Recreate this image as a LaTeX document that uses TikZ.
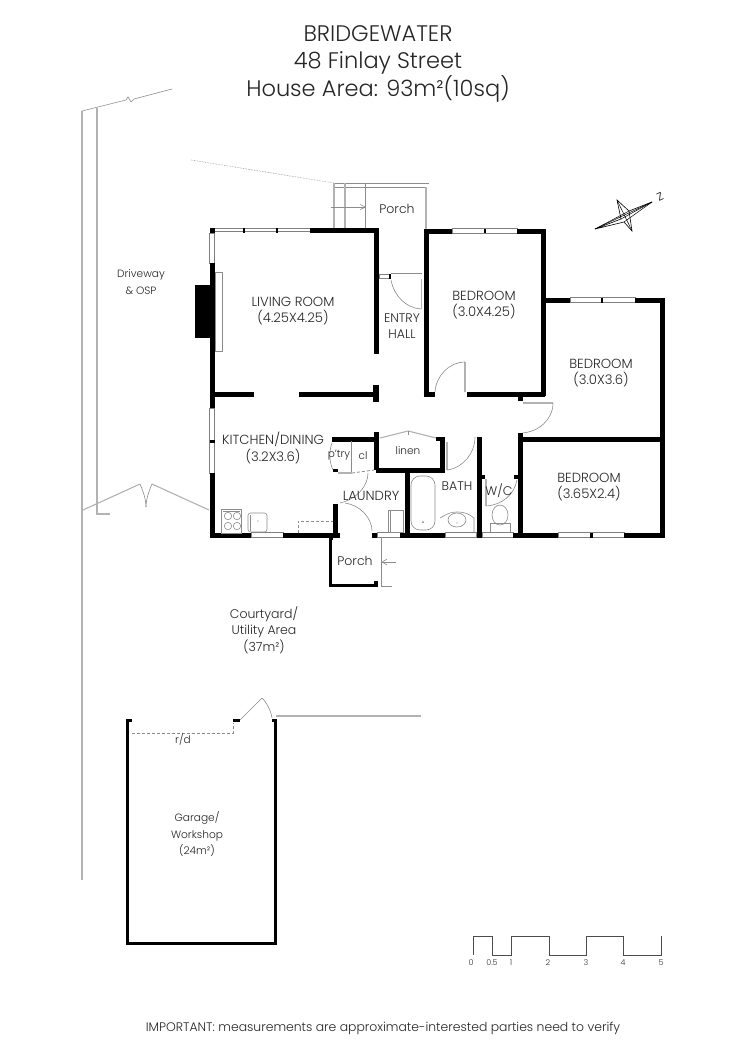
\documentclass[tikz,border=0pt]{standalone}
\usepackage{fontspec}
\usetikzlibrary{arrows.meta}
\setmainfont{Poppins}[UprightFont=* Light]
\tikzset{
 wall/.style={line width=5pt,black,line cap=butt},
 thin wall/.style={line width=3pt,black,line cap=butt},
 grayl/.style={draw=black!45,line width=.6pt},
 pale/.style={draw=black!30,line width=1.1pt},
 win/.style={draw=black!50,line width=.7pt,fill=white},
 lab/.style={font=\fontsize{13.2}{16.5}\selectfont,align=center,inner sep=0pt,text=black!85},
 midlab/.style={font=\fontsize{12.5}{16.5}\selectfont,align=center,inner sep=0pt,text=black!85},
 sitelab/.style={font=\fontsize{10.6}{16.5}\selectfont,align=center,inner sep=0pt,text=black!85},
 smalllab/.style={font=\fontsize{10.5}{12}\selectfont,align=center,inner sep=0pt,text=black!85},
 title/.style={font=\fontsize{22.5}{27}\selectfont,anchor=base,inner sep=0pt,text=black!85},
 tick/.style={font=\fontsize{8}{10}\selectfont,inner sep=0pt,text=black!80},
}
\begin{document}
\begin{tikzpicture}[x=1pt,y=-1pt]
\useasboundingbox[fill=white] (0,0) rectangle (750,1060);
% site lines
\draw[pale] (82,111) -- (82,880);
\draw[pale] (97,108) -- (97,514) -- (110,514);
\draw[grayl] (82,111) -- (126,100) -- (128,97) -- (131,102) -- (134,99) -- (172,89);
\draw[grayl,densely dotted] (191,160) -- (334,183);
\draw[pale] (83,510) -- (140,484);
\draw[grayl] (140,484) .. controls (143,491) and (146,499) .. (146,507);
\draw[grayl] (152,484) .. controls (149,491) and (146,499) .. (146,507);
\draw[pale] (152,484) -- (209,510);
% front porch
\draw[grayl] (334,183) -- (429,183);
\draw[grayl] (334,187) -- (427,187);
\draw[pale] (334,183) -- (334,228);
\draw[pale] (345,183) -- (345,228);
\draw[grayl] (365,183) -- (365,228);
\draw[pale] (426,187) -- (426,232);
\draw[grayl,-{Straight Barb[length=5pt,width=5pt]}] (331,207) -- (366,207);
% living room
\draw[win] (212,228.5) rectangle (310,231.5);
\fill (209.5,227.5) rectangle (214.5,232.5);
\fill (243,227.5) rectangle (245,232.5);
\fill (276,227.5) rectangle (278,232.5);
\draw[win] (209.5,233) rectangle (214.5,263);
\draw[wall] (310,230) -- (379,230);
\draw[wall] (376,228) -- (376,354);
\draw[line width=6pt] (376,385) -- (376,402);
\draw[wall] (212,263) -- (212,408);
\draw[wall] (212,394) -- (254,394);
\draw[wall] (299,394) -- (376,394);
\fill (195,285) rectangle (212,338);
\draw[grayl] (215,272) rectangle (222,351);
% entry
\draw[win] (379,274) rectangle (390,278);
\fill (389,274) rectangle (391,279);
\draw[grayl] (391,273) -- (422,273);
\draw[pale] (421.5,279) -- (421.5,309);
\draw[grayl] (391,280) .. controls (394,296) and (406,308) .. (421,309);
% bedroom 1
\draw[wall] (426,229) -- (426,397);
\draw[wall] (423.5,231) -- (452,231);
\draw[win] (452,228.5) rectangle (517,233);
\fill (483.5,228.5) rectangle (485.5,233);
\draw[wall] (517,231) -- (545,231);
\draw[wall] (543,229) -- (543,396);
\draw[wall] (423.5,394) -- (435,394);
\draw[wall] (467,394) -- (545,394);
\draw[pale] (465,362) -- (465,392);
\draw[grayl] (465,362) .. controls (449,362) and (436,376) .. (435,392);
% bedroom 2
\draw[wall] (545,300) -- (570,300);
\draw[win] (570,297.5) rectangle (635,302.5);
\fill (601,297.5) rectangle (603,302.5);
\draw[wall] (635,300) -- (664.5,300);
\draw[wall] (662,297.5) -- (662,537.5);
\draw[wall] (520,439) -- (662,439);
\fill (517.5,393) rectangle (522.5,401);
\draw[grayl] (523,402) -- (553,402);
\draw[pale] (523,403) -- (553,403);
\draw[grayl] (553,403) .. controls (553,420) and (538,432) .. (522,433);
\draw[wall] (520,433) -- (520,537);
% kitchen
\draw[win] (209.5,408) rectangle (214.5,473);
\fill (209.5,440) rectangle (214.5,442.5);
\draw[wall] (212,473) -- (212,537.5);
\draw[wall] (209.5,535) -- (251,535);
\draw[win] (251,532.5) rectangle (283,537.5);
\draw[wall] (283,535) -- (340,535);
\draw[wall] (335,504) -- (335,535);
\draw[wall] (332,439) -- (376,439);
\fill (373.5,432) rectangle (379,441);
\draw[wall] (376,432) -- (376,470);
% pantry
\draw[grayl] (351,441) -- (351,472);
\draw[grayl] (332,443) .. controls (329,450) and (329,462) .. (333,470);
\fill (332.5,468.5) rectangle (338,472);
\draw[pale] (338,473) -- (352,473);
\draw[grayl,densely dashed,line width=.8pt] (352,473) -- (374,470);
\draw[grayl] (368,473) .. controls (368,486) and (357,499) .. (340,503);
% linen
\draw[wall] (376,470) -- (445,470);
\draw[wall] (442,437) -- (442,472.5);
\fill (436,437) rectangle (445,441);
\draw[pale] (380,438) -- (408,431) -- (436,438);
\draw[grayl] (408,431) -- (408,435);
% laundry + back porch
\draw[wall] (372,535) -- (377,535);
\draw[win] (377,532.5) rectangle (400,537.5);
\draw[wall] (400,535) -- (445,535);
\draw[wall] (407,470) -- (407,535);
\draw[grayl] (345,503) .. controls (360,505) and (372,518) .. (372,531);
\draw[grayl] (388,510) rectangle (403,532);
\draw[grayl] (390,510) -- (390,532);
\draw[thin wall] (330,535) -- (330,586);
\draw[thin wall] (328.5,585) -- (378,585);
\fill (374,581) rectangle (378,586);
\fill (330,535) rectangle (333,540);
\draw[grayl] (381,537) -- (381,586) -- (392,586);
\draw[grayl,-{Straight Barb[length=5pt,width=6pt]}] (396,562) -- (381.5,562);
% stove and sink
\draw[grayl] (221,509) rectangle (241,533);
\draw[grayl] (223,511) -- (240,511);
\foreach \cx/\cy in {228/516,237/516,228/526,237/526}{\draw[grayl] (\cx,\cy) circle (3.7);}
\draw[grayl,rounded corners=2.5pt] (248,513) rectangle (267,532);
\draw[grayl,rounded corners=2pt] (250,515) -- (250,531);
\fill[black!50] (258,521) circle (.7);
\draw[grayl,densely dashed] (298,533) -- (298,521) -- (333,521);
% bath
\draw[grayl,rounded corners=9pt] (411,476) rectangle (435,530);
\fill[black!50] (423,522) circle (1);
\draw[win] (445,532.5) rectangle (476,537.5);
\draw[wall] (479,437) -- (479,537.5);
\draw[pale] (447,442) -- (447,470);
\draw[grayl] (447,470) .. controls (463,468) and (475,453) .. (475,437);
\draw[grayl] (440,518) .. controls (447,514) and (450,512) .. (457,512) .. controls (465,512) and (469,514) .. (474,518) -- (474,532);
\draw[grayl] (457,520) ellipse (9 and 7);
\fill[black!50] (457,523) circle (.7);
% w/c
\fill (481.5,475) rectangle (485,479);
\fill (513.5,475) rectangle (518,479);
\draw[pale] (486,479) -- (486,506);
\draw[grayl] (486,506) .. controls (502,505) and (514,495) .. (517,480);
\draw[grayl] (500,515) ellipse (8 and 10);
\draw[grayl] (490,533) -- (490,523) -- (510,523) -- (510,533);
\draw[win] (482,532.5) rectangle (513,537.5);
\draw[wall] (513,535) -- (558,535);
\draw[win] (558,532.5) rectangle (624,537.5);
\fill (590,532.5) rectangle (592.5,537.5);
\draw[wall] (624,535) -- (664.5,535);
% garage
\draw[thin wall] (132,720) -- (127,720) -- (127,943) -- (275,943) -- (275,720) -- (272,720);
\draw[thin wall] (233,720) -- (240,720);
\draw[grayl,densely dashed] (132,733) -- (233,733) -- (233,723);
\draw[grayl] (240,720) -- (262,698) .. controls (267,703) and (271,711) .. (272,718);
\draw[pale] (276,716) -- (421,716);
% compass
\draw[line width=.6pt,line join=miter] (652,202) -- (629,211) -- (617,200) -- (621,219) -- (595,229) -- (624,222) -- (632,231) -- (629,211);
\draw[line width=.5pt] (652,202) -- (595,229);
\draw[line width=.5pt] (652,202) -- (624,222);
\draw[line width=.5pt] (617,200) -- (632,231);
\draw[line width=.5pt] (621,219) -- (652,202);
\draw[line width=.5pt] (595,229) -- (629,211);
\node[rotate=25,inner sep=0pt,font=\fontsize{11}{13}\selectfont] (north) at (660,197) {Z};
% scale
\draw[black!70,line width=.9pt] (473,955) -- (473,936) -- (492.5,936) -- (492.5,955) -- (511,955) -- (511,936) -- (549,936) -- (549,955) -- (586,955) -- (586,936) -- (623,936) -- (623,955) -- (661,955) -- (661,936);
\node[tick] (s0) at (471,963) {0};
\node[tick] (s05) at (492,963) {0.5};
\node[tick] (s1) at (511,963) {1};
\node[tick] (s2) at (548,963) {2};
\node[tick] (s3) at (586,963) {3};
\node[tick] (s4) at (623,963) {4};
\node[tick] (s5) at (661,963) {5};
% labels
\node[title] (t1) at (378,41) {BRIDGEWATER};
\node[title] (t2) at (378,68) {48 Finlay Street};
\node[title] (t3) at (378,96) {House Area: 93m²(10sq)};
\node[sitelab] (a1) at (141,282) {Driveway\\\& OSP};
\node[lab] (a2) at (293,311) {LIVING ROOM\\(4.25X4.25)};
\node[midlab] (a3) at (402,326) {ENTRY\\HALL};
\node[midlab] (a4) at (397,209) {Porch};
\node[lab] (a5) at (484,305) {BEDROOM\\(3.0X4.25)};
\node[lab] (a6) at (601,373) {BEDROOM\\(3.0X3.6)};
\node[lab] (a7) at (589,487) {BEDROOM\\(3.65X2.4)};
\node[lab] (a8) at (273,448) {KITCHEN/DINING\\(3.2X3.6)};
\node[smalllab] (a9) at (339,455) {p'try};
\node[smalllab] (a10) at (363,456) {cl};
\node[smalllab] (a11) at (408,451) {linen};
\node[lab] (a12) at (371,496) {LAUNDRY};
\node[midlab] (a13) at (457,486) {BATH};
\node[midlab] (a14) at (499,491) {W/C};
\node[midlab] (a15) at (355,561) {Porch};
\node[midlab] (a16) at (264,630) {Courtyard/\\Utility Area\\(37m²)};
\node[sitelab] (a17) at (197,834) {Garage/\\Workshop\\(24m²)};
\node[smalllab] (a18) at (183,739) {r/d};
\node[font=\fontsize{12.4}{14}\selectfont,inner sep=0pt,text=black!85] (a19) at (383,1028) {IMPORTANT: measurements are approximate-interested parties need to verify};
\end{tikzpicture}
\end{document}
